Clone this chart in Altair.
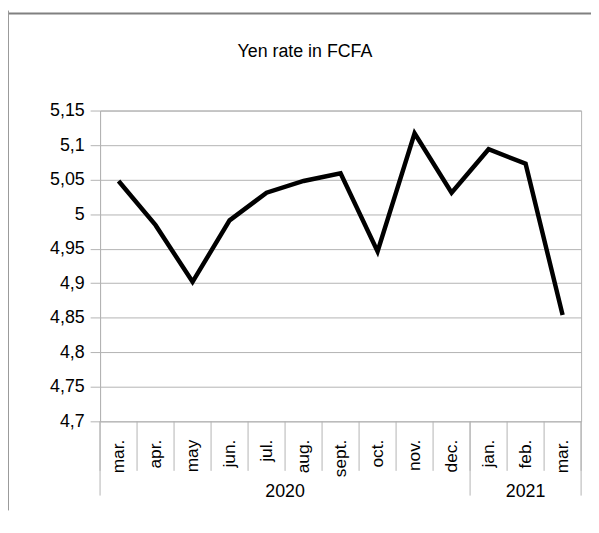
import altair as alt
import pandas as pd

months = ["mar.", "apr.", "may", "jun.", "jul.", "aug.", "sept.", "oct.", "nov.", "dec.", "jan.", "feb.", "mar."]
years = ["2020"] * 10 + ["2021"] * 3
rates = [5.048, 4.984, 4.902, 4.991, 5.031, 5.048, 5.059, 4.946, 5.117, 5.031, 5.094, 5.073, 4.854]
y_ticks = [4.7, 4.75, 4.8, 4.85, 4.9, 4.95, 5.0, 5.05, 5.1, 5.15]
title_text = "Yen rate in FCFA"

W, H = 486, 314
FONT = "Liberation Sans"
GRID = "#b3b3b3"
N = len(months)

df = pd.DataFrame({"pos": [i + 0.5 for i in range(N)], "month": months, "year": years, "rate": rates})

bounds_all = pd.DataFrame({"pos": list(range(N + 1))})
group_b = [0] + [i for i in range(1, N) if years[i] != years[i - 1]] + [N]
bounds_grp = pd.DataFrame({"pos": group_b})
year_lab = pd.DataFrame({
    "year": [years[group_b[k]] for k in range(len(group_b) - 1)],
    "pos": [(group_b[k] + group_b[k + 1]) / 2 for k in range(len(group_b) - 1)],
})
title_df = pd.DataFrame({"t": [title_text]})

xscale = alt.Scale(domain=[0, N], nice=False, zero=False)
yscale = alt.Scale(domain=[4.7, 5.15], nice=False, zero=False)

label_cases = " : ".join(
    "datum.value < %d ? '%s'" % (i + 1, m) for i, m in enumerate(months)
) + " : ''"

x_axis = alt.Axis(
    values=[i + 0.5 for i in range(N)],
    labelExpr=label_cases,
    labelAngle=270, labelAlign="right", labelBaseline="middle",
    grid=False, ticks=False, domain=False, labelPadding=18,
    labelFontSize=17.5, labelFont=FONT, labelColor="black",
    labelOverlap=False, title=None,
)
y_axis = alt.Axis(
    values=y_ticks, grid=True, gridColor=GRID, domainColor=GRID, tickColor=GRID,
    tickSize=10, labelFontSize=18, labelFont=FONT, labelColor="black",
    labelPadding=6, title=None, labelOverlap=False,
    labelExpr="replace(format(datum.value, '.2~f'), '.', ',')",
)

X = alt.X("pos:Q", scale=xscale, axis=x_axis)

line = alt.Chart(df).mark_line(color="black", strokeWidth=4.5, strokeJoin="miter", strokeCap="butt").encode(
    x=X,
    y=alt.Y("rate:Q", scale=yscale, axis=y_axis),
)

sep = alt.Chart(bounds_all).mark_rule(color=GRID, strokeWidth=1).encode(
    x=X, y=alt.value(H), y2=alt.value(H + 50),
)
sep_grp = alt.Chart(bounds_grp).mark_rule(color=GRID, strokeWidth=1).encode(
    x=X, y=alt.value(H), y2=alt.value(H + 75),
)
yr = alt.Chart(year_lab).mark_text(font=FONT, fontSize=18, color="black", baseline="middle", align="center").encode(
    x=X, y=alt.value(H + 71), text="year:N",
)
ttl = alt.Chart(title_df).mark_text(font=FONT, fontSize=18, color="black", baseline="alphabetic", align="center").encode(
    x=alt.value(207), y=alt.value(-54), text="t:N",
)
top_frame = alt.Chart(title_df).mark_rule(color="#808080", strokeWidth=2).encode(
    x=alt.value(-93), x2=alt.value(W + 10), y=alt.value(-98),
)
left_frame = alt.Chart(title_df).mark_rule(color="#999999", strokeWidth=1).encode(
    x=alt.value(-92.5), y=alt.value(-101), y2=alt.value(H + 90),
)

chart = alt.layer(line, sep, sep_grp, yr, ttl, top_frame, left_frame).properties(
    width=W, height=H,
    autosize=alt.AutoSizeParams(type="none"),
    padding={"left": 93, "top": 101, "right": 10, "bottom": 90},
).configure_view(stroke=GRID, strokeWidth=1)

chart.save("out.html", embed_options={"renderer": "svg", "actions": False})
